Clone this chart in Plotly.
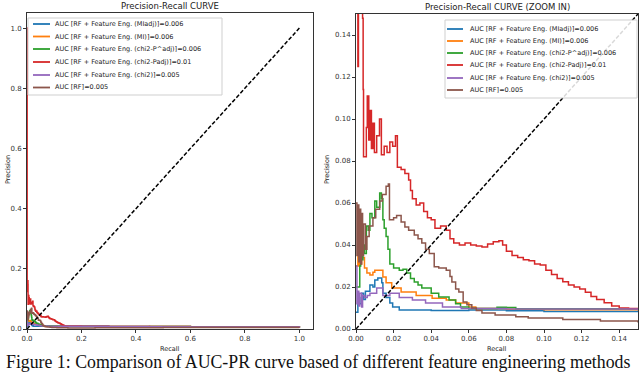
import plotly.graph_objects as go
from plotly.subplots import make_subplots

W, H = 640, 374

SERIES_NAMES = [
    "AUC [RF + Feature Eng. (MIadj)]=0.006",
    "AUC [RF + Feature Eng. (MI)]=0.006",
    "AUC [RF + Feature Eng. (chi2-P^adj)]=0.006",
    "AUC [RF + Feature Eng. (chi2-Padj)]=0.01",
    "AUC [RF + Feature Eng. (chi2)]=0.005",
    "AUC [RF]=0.005",
]
COLORS = ["#1f77b4", "#ff7f0e", "#2ca02c", "#d62728", "#9467bd", "#8c564b"]

# recall / precision
mi_adj_recall = [0, 0.001, 0.002, 0.003, 0.004, 0.005, 0.0074, 0.009, 0.010, 0.0116, 0.0137, 0.0143,
                 0.016, 0.018, 0.0195, 0.023, 0.04, 0.06, 0.08, 0.10, 0.15, 0.3, 0.6, 1.0]
mi_adj_prec = [0.008, 0.015, 0.012, 0.017, 0.014, 0.018, 0.021, 0.020, 0.0233, 0.0243, 0.022, 0.017,
               0.015, 0.0124, 0.0105, 0.009, 0.0088, 0.009, 0.0087, 0.0083, 0.0085, 0.0075, 0.006, 0.005]

mi_recall = [0, 0.001, 0.0015, 0.002, 0.0025, 0.003, 0.0037, 0.0045, 0.0058, 0.0074, 0.009, 0.010,
             0.0126, 0.0143, 0.016, 0.019, 0.024, 0.032, 0.0405, 0.048, 0.053, 0.060, 0.0637, 0.08,
             0.10, 0.15, 0.3, 0.45, 0.6, 1.0]
mi_prec = [0.03, 0.037, 0.030, 0.036, 0.031, 0.034, 0.034, 0.029, 0.0267, 0.0257, 0.027, 0.028,
           0.028, 0.0248, 0.022, 0.0195, 0.0176, 0.016, 0.0146, 0.0138, 0.0124, 0.0105, 0.0098, 0.0094,
           0.0092, 0.0093, 0.0085, 0.009, 0.007, 0.005]

chi2p_recall = [0, 0.002, 0.0025, 0.003, 0.0037, 0.0045, 0.0055, 0.0065, 0.0074, 0.0085, 0.010, 0.011,
                0.0126, 0.0135, 0.0143, 0.015, 0.016, 0.017, 0.018, 0.020, 0.023, 0.025, 0.027, 0.029,
                0.031, 0.033, 0.035, 0.040, 0.044, 0.0495, 0.053, 0.0556, 0.060, 0.070, 0.075, 0.080,
                0.085, 0.10, 0.15, 0.3, 0.6, 1.0]
chi2p_prec = [0.02, 0.03, 0.042, 0.033, 0.040, 0.036, 0.049, 0.047, 0.055, 0.053, 0.061, 0.058,
              0.0648, 0.062, 0.052, 0.048, 0.044, 0.038, 0.031, 0.029, 0.028, 0.0285, 0.0267, 0.024,
              0.0224, 0.021, 0.0195, 0.017, 0.0152, 0.0138, 0.012, 0.0105, 0.0098, 0.0098, 0.0104, 0.0102,
              0.0096, 0.0096, 0.0095, 0.008, 0.0065, 0.005]

chi2padj_recall = [0, 0.0005, 0.001, 0.0013, 0.0035, 0.0038, 0.004, 0.0055, 0.006, 0.0068, 0.0075, 0.0082,
                   0.009, 0.0098, 0.011, 0.0125, 0.0135, 0.015, 0.0165, 0.018, 0.0195, 0.021, 0.022, 0.024,
                   0.026, 0.028, 0.029, 0.030, 0.032, 0.034, 0.036, 0.038, 0.040, 0.042, 0.045, 0.048,
                   0.050, 0.052, 0.055, 0.058, 0.061, 0.064, 0.067, 0.070, 0.073, 0.076, 0.078, 0.080,
                   0.083, 0.086, 0.089, 0.092, 0.095, 0.098, 0.101, 0.104, 0.107, 0.110, 0.113, 0.116,
                   0.119, 0.122, 0.125, 0.128, 0.132, 0.136, 0.140, 0.145, 0.150, 0.2, 0.3, 0.45, 0.6,
                   0.8, 1.0]
chi2padj_prec = [1.0, 0.16, 0.125, 0.16, 0.148, 0.114, 0.082, 0.096, 0.111, 0.090, 0.104, 0.086,
                 0.098, 0.084, 0.092, 0.100, 0.083, 0.087, 0.084, 0.089, 0.087, 0.092, 0.077, 0.076,
                 0.074, 0.071, 0.066, 0.062, 0.059, 0.060, 0.056, 0.053, 0.052, 0.048, 0.049, 0.047,
                 0.043, 0.041, 0.040, 0.041, 0.040, 0.0395, 0.039, 0.0405, 0.0415, 0.042, 0.040, 0.037,
                 0.035, 0.034, 0.033, 0.0325, 0.031, 0.0305, 0.028, 0.026, 0.024, 0.0225, 0.021, 0.020,
                 0.019, 0.0175, 0.0155, 0.014, 0.0125, 0.011, 0.0100, 0.0098, 0.0096, 0.009, 0.008, 0.007,
                 0.006, 0.0055, 0.005]

chi2_recall = [0, 0.0005, 0.001, 0.0015, 0.002, 0.003, 0.0035, 0.0047, 0.006, 0.0074, 0.011, 0.0137,
               0.0143, 0.018, 0.023, 0.030, 0.037, 0.046, 0.056, 0.08, 0.15, 0.3, 0.6, 1.0]
chi2_prec = [0.03, 0.012, 0.018, 0.011, 0.017, 0.0105, 0.016, 0.015, 0.016, 0.017, 0.0195, 0.0195,
             0.016, 0.017, 0.015, 0.0138, 0.0124, 0.0105, 0.0098, 0.0095, 0.0094, 0.008, 0.0065, 0.005]

rf_recall = [0, 0.0005, 0.001, 0.0015, 0.002, 0.0025, 0.003, 0.0035, 0.004, 0.005, 0.0058, 0.007,
             0.009, 0.0105, 0.0126, 0.014, 0.016, 0.0172, 0.0178, 0.020, 0.0216, 0.024, 0.026, 0.028,
             0.031, 0.033, 0.035, 0.037, 0.039, 0.0416, 0.044, 0.048, 0.050, 0.051, 0.053, 0.0547,
             0.057, 0.059, 0.0616, 0.064, 0.067, 0.074, 0.085, 0.0916, 0.11, 0.13, 0.15, 0.25, 0.5, 1.0]
rf_prec = [0.06, 0.035, 0.059, 0.032, 0.057, 0.031, 0.055, 0.035, 0.050, 0.038, 0.044, 0.049,
           0.053, 0.057, 0.061, 0.064, 0.068, 0.069, 0.052, 0.053, 0.054, 0.051, 0.0486, 0.047,
           0.0448, 0.043, 0.041, 0.038, 0.036, 0.0297, 0.029, 0.028, 0.025, 0.0224, 0.019, 0.0176,
           0.0129, 0.0115, 0.010, 0.0088, 0.0076, 0.0067, 0.0058, 0.0052, 0.0045, 0.0038, 0.0034,
           0.0045, 0.005, 0.005]

RECALLS = [mi_adj_recall, mi_recall, chi2p_recall, chi2padj_recall, chi2_recall, rf_recall]
PRECS = [mi_adj_prec, mi_prec, chi2p_prec, chi2padj_prec, chi2_prec, rf_prec]

diag_x = [0, 1]
diag_y = [0, 1]

left_ticks = [0.0, 0.2, 0.4, 0.6, 0.8, 1.0]
right_ticks = [0.00, 0.02, 0.04, 0.06, 0.08, 0.10, 0.12, 0.14]

fig = make_subplots(rows=1, cols=2)

for col in (1, 2):
    for name, color, rx, py in zip(SERIES_NAMES, COLORS, RECALLS, PRECS):
        fig.add_trace(go.Scatter(x=rx, y=py, mode="lines", name=name, showlegend=False,
                                 line=dict(color=color, width=1.5, shape="hv")), row=1, col=col)
    fig.add_trace(go.Scatter(x=diag_x, y=diag_y, mode="lines", showlegend=False,
                             line=dict(color="black", width=1.5, dash="4px,2px")), row=1, col=col)

top_y = 1 - 13 / H
bot_y = 1 - 329 / H
axis_common = dict(showline=True, mirror=True, linecolor="#333", linewidth=1, ticks="outside",
                   ticklen=3, tickcolor="#333", showgrid=False, zeroline=False, automargin=False,
                   tickfont=dict(family="DejaVu Sans", size=7, color="#333"))

fig.update_xaxes(domain=[27 / W, 313 / W], range=[0, 1.05], tickvals=left_ticks,
                 tickformat=".1f", **axis_common, row=1, col=1)
fig.update_yaxes(domain=[bot_y, top_y], range=[0, 1.05], tickvals=left_ticks,
                 tickformat=".1f", **axis_common, row=1, col=1)
fig.update_xaxes(domain=[356 / W, 638 / W], range=[0, 0.15], tickvals=right_ticks,
                 tickformat=".2f", **axis_common, row=1, col=2)
fig.update_yaxes(domain=[bot_y, 1 - 14 / H], range=[0, 0.15], tickvals=right_ticks,
                 tickformat=".2f", **axis_common, row=1, col=2)

annotations = []
shapes = []


def px_x(x):
    return x / W


def px_y(y):
    return 1 - y / H


def txt(x, y, text, size, xanchor="center", angle=0, family="DejaVu Sans", color="#222"):
    annotations.append(dict(x=px_x(x), y=px_y(y), xref="paper", yref="paper", text=text,
                            showarrow=False, xanchor=xanchor, yanchor="middle", textangle=angle,
                            font=dict(family=family, size=size, color=color)))


# titles and axis labels
txt(170, 6, "Precision-Recall CURVE", 8.5)
txt(497, 7, "Precision-Recall CURVE (ZOOM IN)", 8.5)
txt(170, 349, "Recall", 6.5)
txt(497, 349, "Recall", 6.5)
txt(8, 170, "Precision", 6.5, angle=-90)
txt(327, 170, "Precision", 6.5, angle=-90)

# legends drawn by hand so the rows stay tight
legends = [
    dict(box=(28, 18, 222, 95), line=(33, 50), text_x=53, rows=[24, 36.5, 49, 62, 75, 87.5]),
    dict(box=(445, 20, 637, 98), line=(447, 463), text_x=468, rows=[29, 41, 53, 65, 78, 90]),
]
for lg in legends:
    x0, y0, x1, y1 = lg["box"]
    shapes.append(dict(type="rect", xref="paper", yref="paper", x0=px_x(x0), x1=px_x(x1),
                       y0=px_y(y1), y1=px_y(y0), line=dict(color="#cfcfcf", width=1),
                       fillcolor="rgba(255,255,255,0.85)", layer="above"))
    for name, color, ry in zip(SERIES_NAMES, COLORS, lg["rows"]):
        shapes.append(dict(type="line", xref="paper", yref="paper", x0=px_x(lg["line"][0]),
                           x1=px_x(lg["line"][1]), y0=px_y(ry), y1=px_y(ry),
                           line=dict(color=color, width=1.8), layer="above"))
        txt(lg["text_x"], ry, name, 6.5, xanchor="left")

# caption
txt(318, 362, "Figure 1: Comparison of AUC-PR curve based of different feature engineering methods",
    17.8, family="Liberation Serif", color="#111")

fig.update_layout(width=W, height=H, margin=dict(l=0, r=0, t=0, b=0),
                  paper_bgcolor="white", plot_bgcolor="white",
                  annotations=annotations, shapes=shapes, showlegend=False)

fig.write_html("out.html", config={"displayModeBar": False},
               post_script="document.body.style.margin='0';")
